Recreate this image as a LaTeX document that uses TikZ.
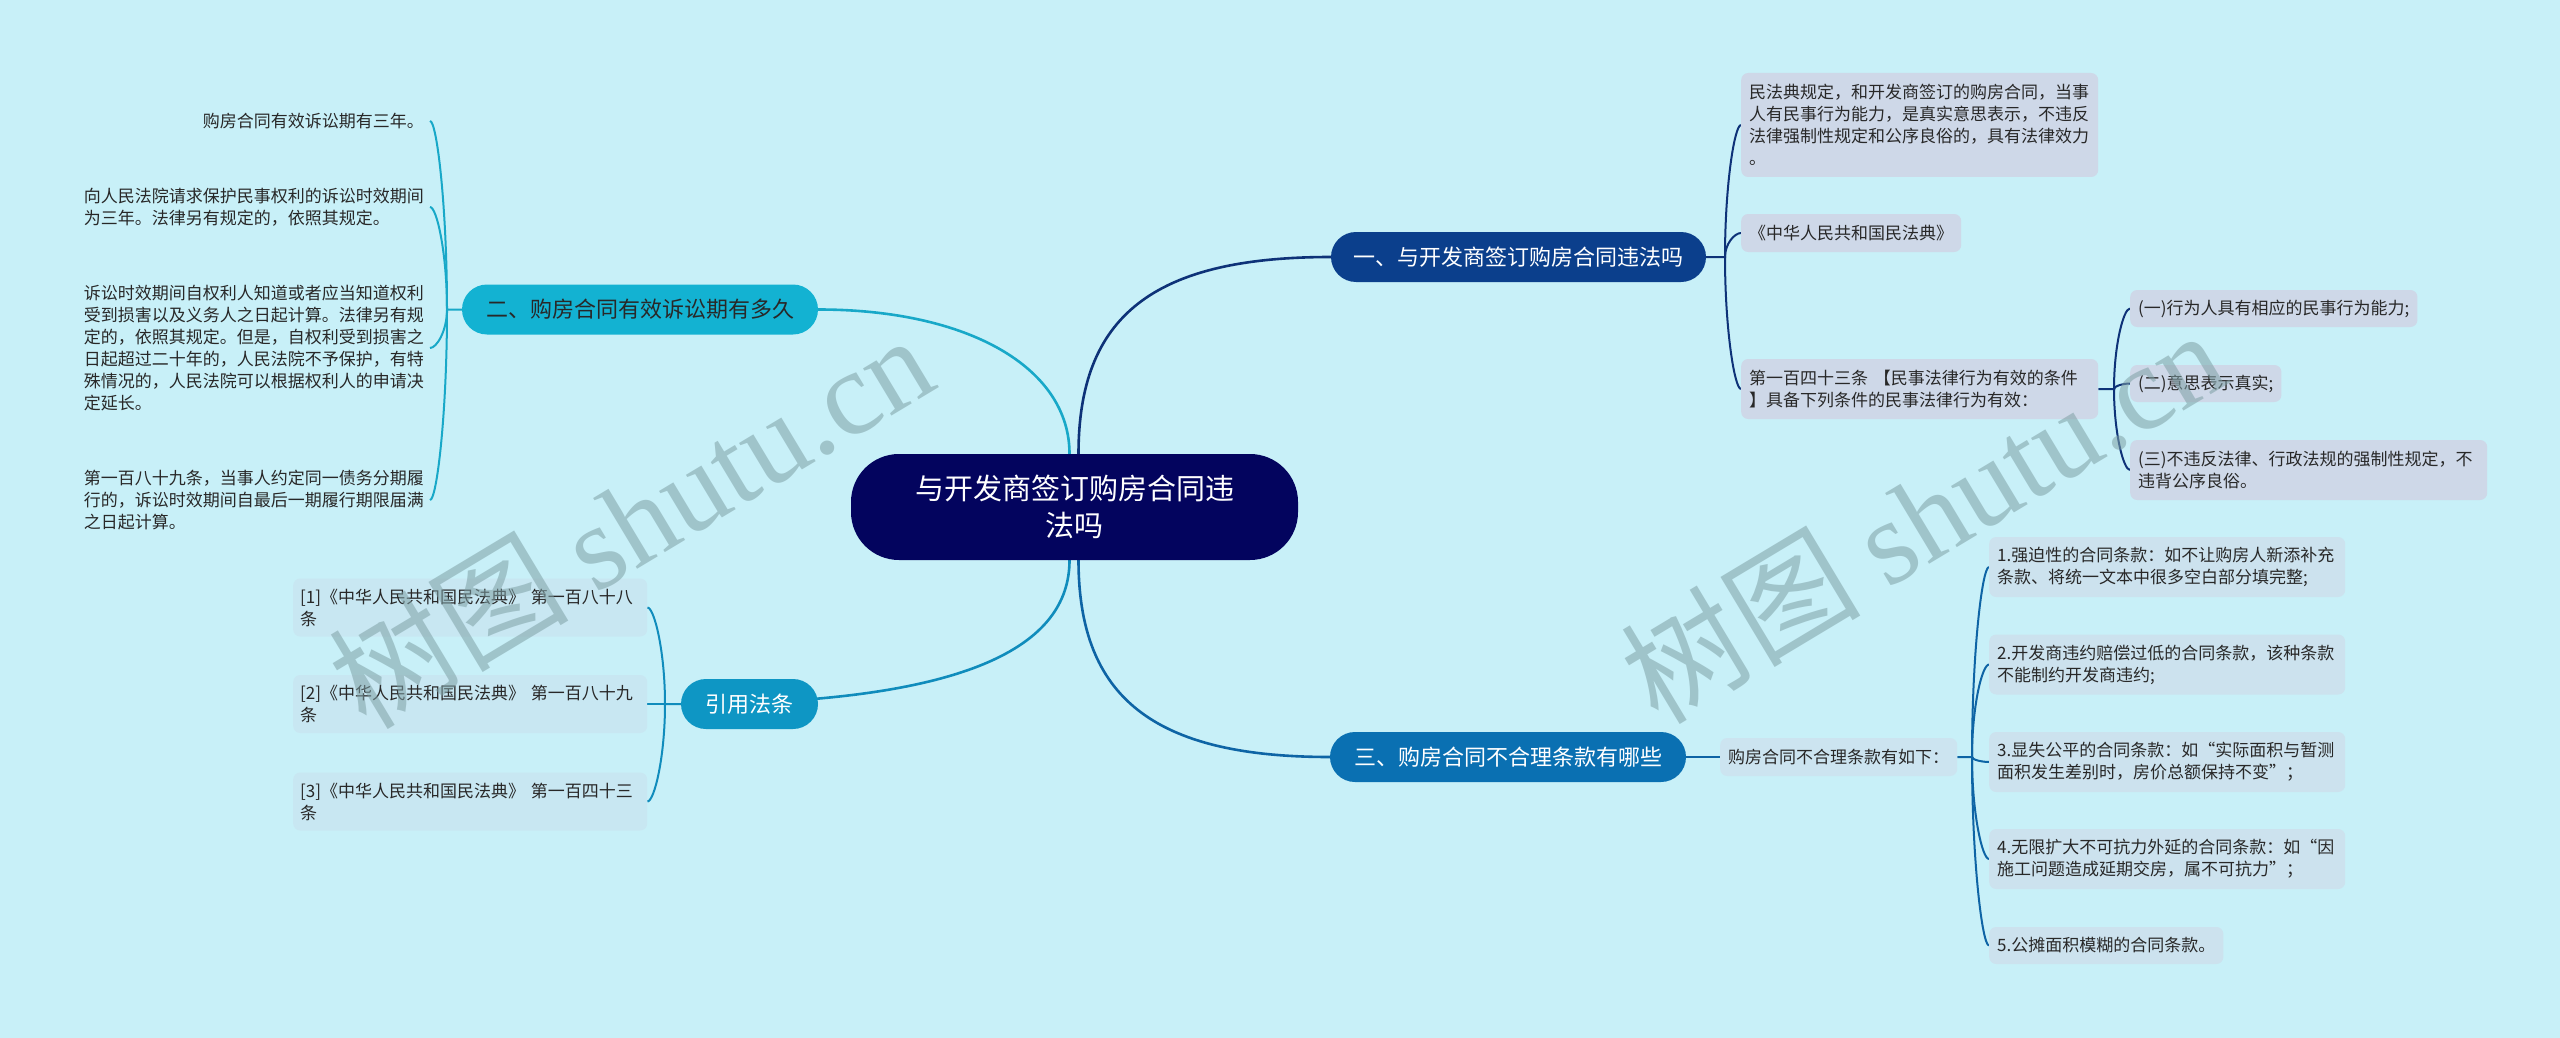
\documentclass[tikz,border=0pt]{standalone}
\usepackage{fontspec}
\setmainfont{Noto Sans CJK SC}
\newfontfamily\wmserif{Liberation Serif}
\usetikzlibrary{backgrounds}
\definecolor{bgc}{RGB}{200,240,248}
\definecolor{ctrc}{RGB}{3,4,94}
\definecolor{bonec}{RGB}{11,63,140}
\definecolor{btwoc}{RGB}{19,178,210}
\definecolor{bthreec}{RGB}{10,112,178}
\definecolor{bfourc}{RGB}{14,150,196}
\definecolor{leafa}{RGB}{206,216,232}
\definecolor{leafc}{RGB}{204,226,238}
\definecolor{leafr}{RGB}{200,231,242}
\definecolor{leafm}{RGB}{204,228,240}
\definecolor{leaftxt}{RGB}{40,40,40}
\definecolor{lnone}{RGB}{14,50,120}
\definecolor{lntwo}{RGB}{24,168,200}
\definecolor{lnthree}{RGB}{14,100,165}
\definecolor{lnfour}{RGB}{16,140,188}
\definecolor{wmc}{RGB}{126,160,165}
\begin{document}
\begin{tikzpicture}[x=1pt,y=-1pt,
  ctrnode/.style={fill=ctrc, text=white, rounded corners=48pt, minimum width=447pt, minimum height=106pt, inner sep=0pt, align=center, font=\fontsize{29}{37}\selectfont},
  branch/.style={rounded corners=25pt, minimum height=50pt, inner sep=0pt, font=\fontsize{22}{26}\selectfont},
  leafbox/.style={rounded corners=7pt, inner xsep=8pt, inner ysep=0pt, anchor=west, align=left, text=leaftxt, font=\fontsize{17}{22}\selectfont},
  plaintxt/.style={inner xsep=6pt, inner ysep=0pt, anchor=east, align=left, text=leaftxt, font=\fontsize{17}{22}\selectfont},
  mainln/.style={line width=2.6pt},
  subln/.style={line width=2pt},
  wm/.style={text=wmc, opacity=0.55, font=\fontsize{120}{120}\selectfont, inner sep=0pt}
]
\useasboundingbox (0,0) rectangle (2560,1038);

% center
\node[ctrnode] (ctr) at (1074.5,507) {与开发商签订购房合同违\\法吗};

% branches
\node[branch, fill=bonec, text=white, minimum width=375pt] (b1) at (1518.5,257) {一、与开发商签订购房合同违法吗};
\node[branch, fill=btwoc, text=leaftxt, minimum width=356pt] (b2) at (640,309.5) {二、购房合同有效诉讼期有多久};
\node[branch, fill=bthreec, text=white, minimum width=356pt] (b3) at (1508,757) {三、购房合同不合理条款有哪些};
\node[branch, fill=bfourc, text=white, minimum width=137pt] (b4) at (749.5,704) {引用法条};

% branch 1 leaves
\node[leafbox, fill=leafa, text width=341pt, minimum height=104pt] (l1a) at (1741,125) {民法典规定，和开发商签订的购房合同，当事\\人有民事行为能力，是真实意思表示，不违反\\法律强制性规定和公序良俗的，具有法律效力\\。};
\node[leafbox, fill=leafa, minimum height=38pt] (l1b) at (1741,233) {《中华人民共和国民法典》};
\node[leafbox, fill=leafa, text width=341pt, minimum height=60pt] (l1c) at (1741,389) {第一百四十三条 【民事法律行为有效的条件\\】具备下列条件的民事法律行为有效：};
\node[leafbox, fill=leafa, minimum height=37pt] (l1c1) at (2130,308.5) {(一)行为人具有相应的民事行为能力;};
\node[leafbox, fill=leafa, minimum height=37pt] (l1c2) at (2130,383.5) {(二)意思表示真实;};
\node[leafbox, fill=leafa, text width=341pt, minimum height=60pt] (l1c3) at (2130,470) {(三)不违反法律、行政法规的强制性规定，不\\违背公序良俗。};

% branch 2 leaves (plain text)
\node[plaintxt] (l2a) at (430,121) {购房合同有效诉讼期有三年。};
\node[plaintxt] (l2b) at (430,207) {向人民法院请求保护民事权利的诉讼时效期间\\为三年。法律另有规定的，依照其规定。};
\node[plaintxt] (l2c) at (430,348) {诉讼时效期间自权利人知道或者应当知道权利\\受到损害以及义务人之日起计算。法律另有规\\定的，依照其规定。但是，自权利受到损害之\\日起超过二十年的，人民法院不予保护，有特\\殊情况的，人民法院可以根据权利人的申请决\\定延长。};
\node[plaintxt] (l2d) at (430,500) {第一百八十九条，当事人约定同一债务分期履\\行的，诉讼时效期间自最后一期履行期限届满\\之日起计算。};

% branch 4 leaves
\node[leafbox, fill=leafr, inner xsep=7pt, text width=340pt, minimum height=58pt] (r1) at (293,607.5) {[1]《中华人民共和国民法典》 第一百八十八\\条};
\node[leafbox, fill=leafr, inner xsep=7pt, text width=340pt, minimum height=58pt] (r2) at (293,704) {[2]《中华人民共和国民法典》 第一百八十九\\条};
\node[leafbox, fill=leafr, inner xsep=7pt, text width=340pt, minimum height=58pt] (r3) at (293,801.5) {[3]《中华人民共和国民法典》 第一百四十三\\条};

% branch 3 leaves
\node[leafbox, fill=leafm, minimum height=38pt] (m3) at (1720,757) {购房合同不合理条款有如下：};
\node[leafbox, fill=leafc, text width=340pt, minimum height=60pt] (c1) at (1989,567) {1.强迫性的合同条款：如不让购房人新添补充\\条款、将统一文本中很多空白部分填完整;};
\node[leafbox, fill=leafc, text width=340pt, minimum height=60pt] (c2) at (1989,664.5) {2.开发商违约赔偿过低的合同条款，该种条款\\不能制约开发商违约;};
\node[leafbox, fill=leafc, text width=340pt, minimum height=60pt] (c3) at (1989,762) {3.显失公平的合同条款：如“实际面积与暂测\\面积发生差别时，房价总额保持不变”；};
\node[leafbox, fill=leafc, text width=340pt, minimum height=60pt] (c4) at (1989,859) {4.无限扩大不可抗力外延的合同条款：如“因\\施工问题造成延期交房，属不可抗力”；};
\node[leafbox, fill=leafc, minimum height=37pt] (c5) at (1989,945.5) {5.公摊面积模糊的合同条款。};

\coordinate (f1) at (1725,257);
\coordinate (f1c) at (2114,389);
\coordinate (f2) at (447,309.5);
\coordinate (f4) at (665,704);
\coordinate (f3) at (1972,757);

\begin{scope}[on background layer]
\fill[bgc] (0,0) rectangle (2560,1038);
% center to branches
\draw[mainln, lnone] ([xshift=4pt]ctr.north) .. controls (1078.5,316) and (1153,257) .. (b1.west);
\draw[mainln, lnthree] ([xshift=4pt]ctr.south) .. controls (1078.5,698) and (1154,757) .. (b3.west);
\draw[mainln, lntwo] ([xshift=-5pt]ctr.north) .. controls (1069.5,368) and (969,309.5) .. (b2.east);
\draw[mainln, lnfour] ([xshift=-5pt]ctr.south) .. controls (1069.5,646) and (969,704) .. (b4.west);

% branch 1 fork
\draw[subln, lnone] (b1.east) -- (f1) .. controls (1725,184.4) and (1734.6,125) .. (l1a.west);
\draw[subln, lnone] (f1) .. controls (1725,243.8) and (1734.6,233) .. (l1b.west);
\draw[subln, lnone] (f1) .. controls (1725,329.6) and (1734.6,389) .. (l1c.west);
\draw[subln, lnone] (l1c.east) -- (f1c) .. controls (2114,344.7) and (2123.6,308.5) .. (l1c1.west);
\draw[subln, lnone] (f1c) .. controls (2114,386) and (2123.6,383.5) .. (l1c2.west);
\draw[subln, lnone] (f1c) .. controls (2114,433.6) and (2123.6,470) .. (l1c3.west);

% branch 2 fork
\draw[subln, lntwo] (b2.west) -- (f2) .. controls (447,205.8) and (436.8,121) .. (l2a.east);
\draw[subln, lntwo] (f2) .. controls (447,253.1) and (436.8,207) .. (l2b.east);
\draw[subln, lntwo] (f2) .. controls (447,330.7) and (436.8,348) .. (l2c.east);
\draw[subln, lntwo] (f2) .. controls (447,414.3) and (436.8,500) .. (l2d.east);

% branch 4 fork
\draw[subln, lnfour] (b4.west) -- (f4) .. controls (665,650.9) and (654.2,607.5) .. (r1.east);
\draw[subln, lnfour] (f4) -- (r2.east);
\draw[subln, lnfour] (f4) .. controls (665,757.6) and (654.2,801.5) .. (r3.east);

% branch 3 fork
\draw[subln, lnthree] (b3.east) -- (m3.west);
\draw[subln, lnthree] (m3.east) -- (f3) .. controls (1972,652.5) and (1982.2,567) .. (c1.west);
\draw[subln, lnthree] (f3) .. controls (1972,706.1) and (1982.2,664.5) .. (c2.west);
\draw[subln, lnthree] (f3) .. controls (1972,759.8) and (1982.2,762) .. (c3.west);
\draw[subln, lnthree] (f3) .. controls (1972,813.1) and (1982.2,859) .. (c4.west);
\draw[subln, lnthree] (f3) .. controls (1972,860.7) and (1982.2,945.5) .. (c5.west);
\end{scope}

% watermarks
\node[wm, rotate=31] (wm1) at (630,520) {树图 {\wmserif shutu.cn}};
\node[wm, rotate=31] (wm2) at (1922,515) {树图 {\wmserif shutu.cn}};
\end{tikzpicture}
\end{document}
